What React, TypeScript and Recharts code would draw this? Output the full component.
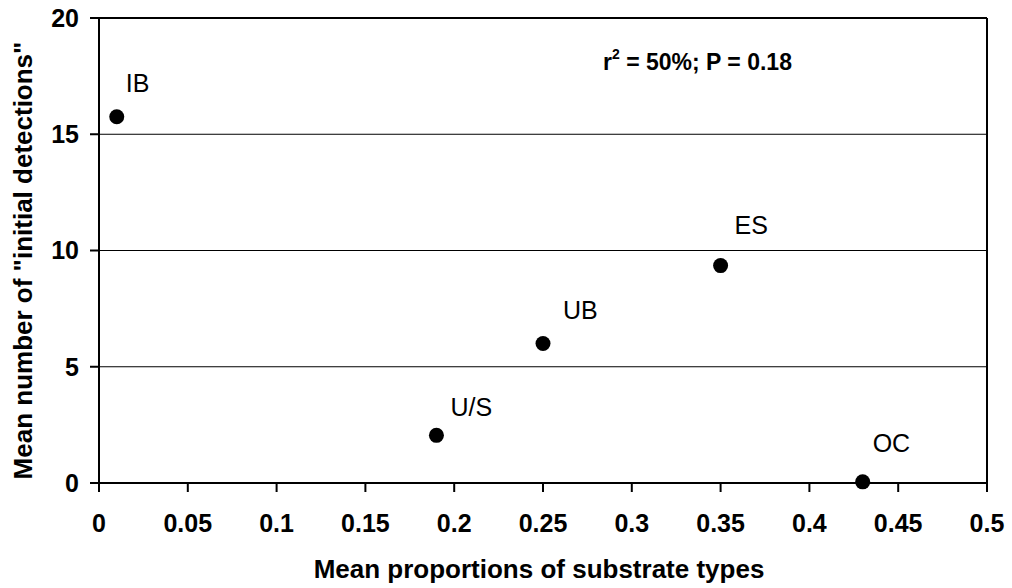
import { ScatterChart, Scatter, XAxis, YAxis, CartesianGrid, ReferenceLine } from 'recharts';

const substrates = ['IB', 'U/S', 'UB', 'ES', 'OC'];
const proportions = [0.01, 0.19, 0.25, 0.35, 0.43];
const detections = [15.75, 2.05, 6.0, 9.35, 0.05];
const xTicks = [0, 0.05, 0.1, 0.15, 0.2, 0.25, 0.3, 0.35, 0.4, 0.45, 0.5];
const yTicks = [0, 5, 10, 15, 20];

const data = substrates.map((name, i) => ({ name, x: proportions[i], y: detections[i] }));

// data labels were dragged around by hand in the original, so each one gets its own nudge
const labelNudge: Record<string, [number, number]> = {
  IB: [9, -25],
  'U/S': [14, -19],
  UB: [20, -25],
  ES: [14, -32],
  OC: [10, -30],
};

const FONT = 'Arial, "Liberation Sans", sans-serif';

const Dot = (props: any) => {
  const { cx, cy, payload } = props;
  const [dx, dy] = labelNudge[payload.name] || [10, -25];
  return (
    <g>
      <circle cx={cx} cy={cy} r={7.5} fill="#000" />
      <text x={cx + dx} y={cy + dy} fontSize={25} fontFamily={FONT} fill="#000">
        {payload.name}
      </text>
    </g>
  );
};

const XTitle = ({ viewBox }: any) => (
  <text
    x={viewBox.x + viewBox.width / 2 - 4}
    y={viewBox.y + 95}
    textAnchor="middle"
    fontSize={26}
    fontWeight="bold"
    fontFamily={FONT}
    fill="#000"
  >
    Mean proportions of substrate types
  </text>
);

const YTitle = ({ viewBox }: any) => {
  const x = viewBox.x + 32;
  const y = viewBox.y + viewBox.height / 2 + 10;
  return (
    <text
      x={x}
      y={y}
      transform={`rotate(-90, ${x}, ${y})`}
      textAnchor="middle"
      fontSize={26}
      fontWeight="bold"
      fontFamily={FONT}
      fill="#000"
    >
      Mean number of "initial detections"
    </text>
  );
};

const StatNote = ({ viewBox }: any) => (
  <text x={viewBox.x + 504} y={viewBox.y + 52} fontSize={23} fontWeight="bold" fontFamily={FONT} fill="#000">
    r
    <tspan fontSize={14} dy={-11}>2</tspan>
    <tspan dy={11}> = 50%; P = 0.18</tspan>
  </text>
);

export default function App() {
  const tick = { fill: '#000', fontSize: 25, fontWeight: 'bold', fontFamily: FONT };
  return (
    <div style={{ width: 1012, height: 588, background: '#fff' }}>
      <style>{'body{margin:0}'}</style>
      <ScatterChart width={1012} height={588} margin={{ top: 18, right: 25, bottom: 0, left: 0 }}>
        <CartesianGrid vertical={false} stroke="#000" strokeWidth={1} horizontalValues={yTicks} />
        <XAxis
          type="number"
          dataKey="x"
          domain={[0, 0.5]}
          ticks={xTicks}
          interval={0}
          height={105}
          stroke="#000"
          strokeWidth={2}
          tickSize={9}
          tickMargin={22}
          tick={tick}
          label={{ content: XTitle }}
        />
        <YAxis
          type="number"
          dataKey="y"
          domain={[0, 20]}
          ticks={yTicks}
          interval={0}
          width={99}
          stroke="#000"
          strokeWidth={2}
          tickSize={9}
          tickMargin={11}
          tick={tick}
          label={{ content: YTitle }}
        />
        <ReferenceLine y={20} stroke="#000" strokeWidth={2} label={{ content: StatNote }} />
        <ReferenceLine x={0.5} stroke="#000" strokeWidth={2} />
        <Scatter data={data} shape={Dot} isAnimationActive={false} />
      </ScatterChart>
    </div>
  );
}
